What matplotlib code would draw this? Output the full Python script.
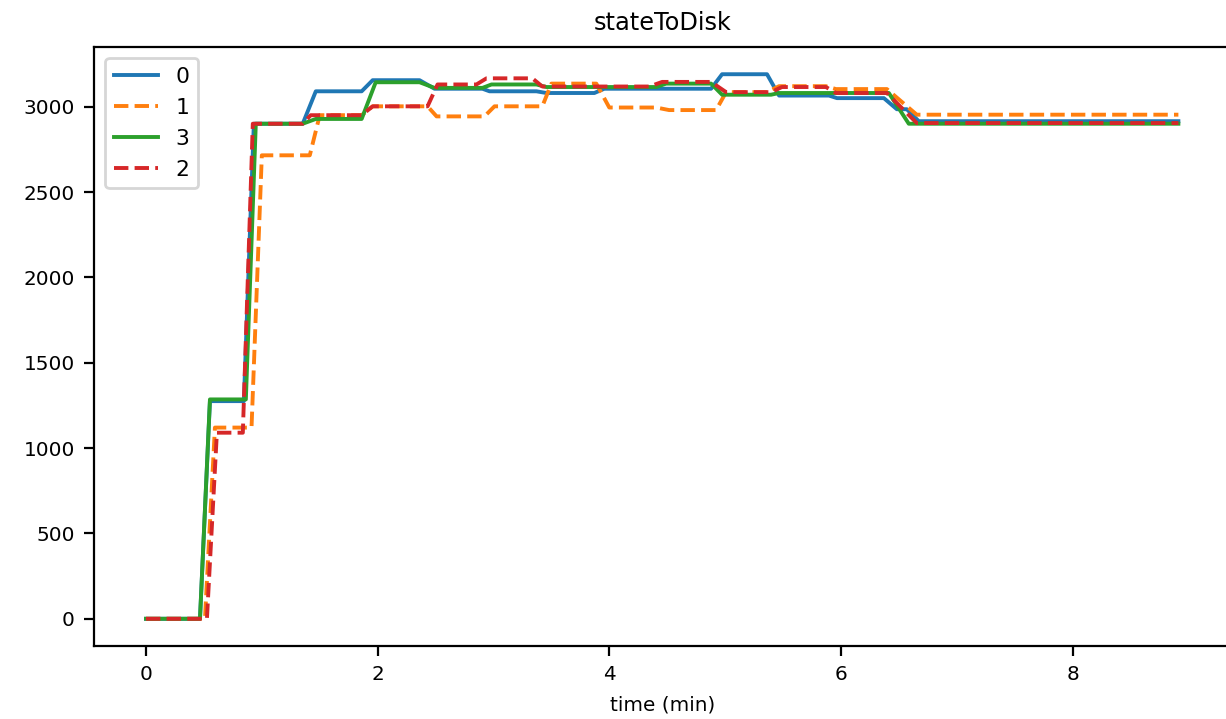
import matplotlib
matplotlib.use("Agg")
import matplotlib.pyplot as plt

# vertices of each series: time in minutes, value
t0 = [0, 0.466, 0.552, 0.845, 0.931, 1.353, 1.466, 1.862, 1.957, 2.362, 2.491,
      2.905, 2.966, 3.371, 3.457, 3.871, 3.957, 4.879, 4.974, 5.362, 5.466,
      5.897, 5.966, 6.371, 6.483, 6.569, 6.672, 8.914]
v0 = [0, 0, 1275, 1275, 2900, 2900, 3090, 3090, 3155, 3155, 3105,
      3105, 3090, 3090, 3080, 3080, 3105, 3105, 3190, 3190, 3065,
      3065, 3050, 3050, 2985, 2985, 2915, 2915]

t1 = [0, 0.509, 0.595, 0.911, 1.0, 1.414, 1.5, 1.862, 1.957, 2.431, 2.509,
      2.922, 3.009, 3.422, 3.5, 3.888, 4.0, 4.405, 4.517, 4.922, 5.009,
      5.362, 5.466, 5.871, 5.957, 6.397, 6.655, 8.914]
v1 = [0, 0, 1120, 1120, 2715, 2715, 2950, 2950, 3002, 3002, 2943,
      2943, 3002, 3002, 3135, 3135, 2995, 2995, 2980, 2980, 3085,
      3085, 3120, 3120, 3103, 3103, 2953, 2953]

t3 = [0, 0.466, 0.552, 0.862, 0.948, 1.353, 1.466, 1.862, 1.983, 2.362, 2.491,
      2.905, 2.983, 3.371, 3.457, 4.405, 4.491, 4.879, 4.974, 5.397, 5.466,
      6.414, 6.586, 8.914]
v3 = [0, 0, 1285, 1285, 2900, 2900, 2928, 2928, 3143, 3143, 3110,
      3110, 3130, 3130, 3115, 3115, 3135, 3135, 3070, 3070, 3080,
      3080, 2900, 2900]

t2 = [0, 0.526, 0.612, 0.836, 0.922, 1.353, 1.422, 1.862, 1.957, 2.431, 2.517,
      2.853, 2.94, 3.336, 3.422, 4.345, 4.457, 4.879, 5.009, 5.397, 5.491,
      5.871, 5.957, 6.397, 6.655, 8.914]
v2 = [0, 0, 1090, 1090, 2900, 2900, 2950, 2950, 3002, 3002, 3130,
      3130, 3166, 3166, 3118, 3118, 3145, 3145, 3085, 3085, 3115,
      3115, 3080, 3080, 2904, 2904]

series = [("0", t0, v0, "tab:blue", "-"),
          ("1", t1, v1, "tab:orange", "--"),
          ("3", t3, v3, "tab:green", "-"),
          ("2", t2, v2, "tab:red", "--")]

plt.rcParams["font.size"] = 7.2

fig = plt.figure(figsize=(1226 / 200, 719 / 200), dpi=200)
ax = fig.add_axes([94.4 / 1226, 73 / 719, (1230 - 94.4) / 1226, 599 / 719])

for name, t, v, c, ls in series:
    ax.plot(t, v, color=c, linestyle=ls, linewidth=1.4, label=name)

ax.set_title("stateToDisk")
ax.set_xlabel("time (min)")
ax.legend(loc="upper left", fontsize=7.9)

fig.savefig("out.png", dpi=200)
